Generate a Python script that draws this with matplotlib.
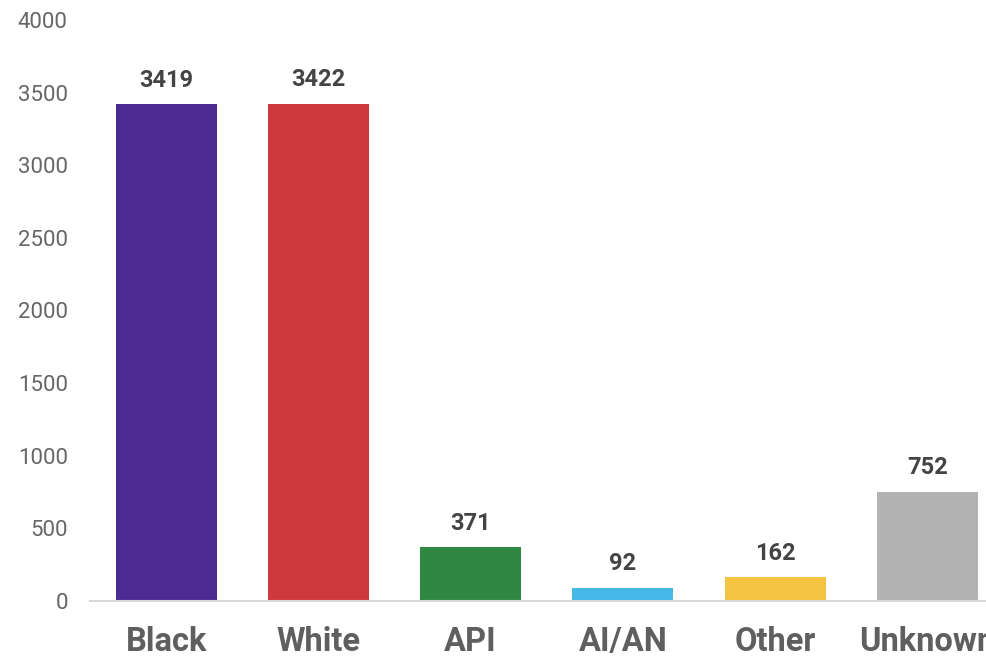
import matplotlib.pyplot as plt

plt.rcParams['font.family'] = ['Roboto', 'DejaVu Sans']

categories = ['Black', 'White', 'API', 'AI/AN', 'Other', 'Unknown']
counts = [3419, 3422, 371, 92, 162, 752]
colors = ['#4c2b91', '#cc3a40', '#2e8842', '#45b8e8', '#f6c443', '#b3b3b3']
yticks = [0, 500, 1000, 1500, 2000, 2500, 3000, 3500, 4000]

fig = plt.figure(figsize=(9.87, 6.57), dpi=100)
ax = fig.add_axes([90 / 987, 56 / 657, 913.5 / 987, 581 / 657])

x = range(len(categories))
bars = ax.bar(x, counts, width=0.665, color=colors)

for b, v in zip(bars, counts):
    ax.annotate(str(v), (b.get_x() + b.get_width() / 2, v),
                xytext=(0, 9), textcoords='offset points',
                ha='center', va='bottom', fontsize=17, fontweight='bold',
                color='#444444')

ax.set_xlim(-0.5, len(categories) - 0.5)
ax.set_ylim(0, 4000)
ax.set_yticks(yticks)
ax.set_xticks(list(x))
ax.set_xticklabels(categories, fontsize=23.5, fontweight='bold', color='#5f5f5f')
ax.tick_params(axis='y', length=0, pad=16, labelsize=16, labelcolor='#666666')
ax.tick_params(axis='x', length=0, pad=18)

for s in ['top', 'right', 'left']:
    ax.spines[s].set_visible(False)
ax.spines['bottom'].set_color('#d9d9d9')
ax.spines['bottom'].set_linewidth(1.5)

fig.savefig('out.png', dpi=100)
